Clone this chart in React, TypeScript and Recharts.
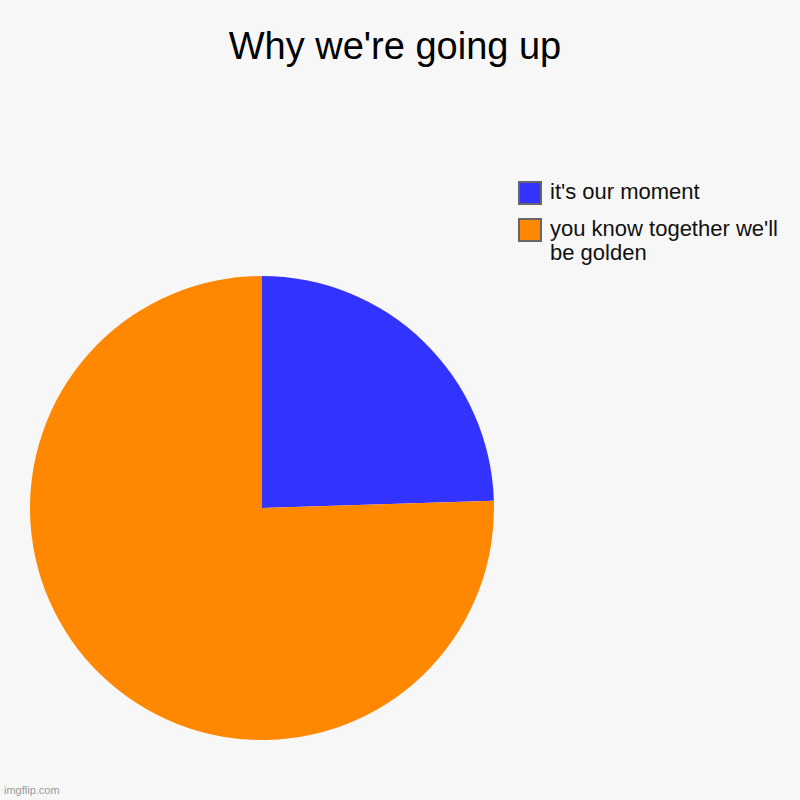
import React from "react";
import { PieChart, Pie, Cell, Legend } from "recharts";

const categories = ["it's our moment", "you know together we'll be golden"];
const values = [24.5, 75.5];
const colors = ["#3333ff", "#ff8800"];
const title = "Why we're going up";
const watermark = "imgflip.com";

const data = categories.map((name, i) => ({ name, value: values[i] }));

const LegendContent = () => (
  <div style={{ fontFamily: "'Liberation Sans', Arial, sans-serif", fontSize: 22, color: "#111" }}>
    {data.map((d, i) => (
      <div key={d.name} style={{ display: "flex", alignItems: "flex-start", marginBottom: i === 0 ? 13 : 0 }}>
        <div
          style={{
            width: 20,
            height: 20,
            background: colors[i],
            border: "2px solid #666",
            flex: "0 0 auto",
          }}
        />
        <div style={{ marginLeft: 8, width: 240, lineHeight: "24px", marginTop: -1 }}>{d.name}</div>
      </div>
    ))}
  </div>
);

export default function App() {
  return (
    <div
      style={{
        position: "absolute",
        left: 0,
        top: 0,
        width: 800,
        height: 800,
        background: "#f7f7f7",
        overflow: "hidden",
      }}
    >
      <div
        style={{
          position: "absolute",
          top: 25,
          left: 0,
          width: 790,
          textAlign: "center",
          fontFamily: "'Liberation Sans', Arial, sans-serif",
          fontSize: 38,
          color: "#000",
        }}
      >
        {title}
      </div>
      <PieChart
        width={800}
        height={800}
        margin={{ top: 0, right: 0, bottom: 0, left: 0 }}
        style={{ position: "absolute", left: 0, top: 0 }}
      >
        <Pie
          data={data}
          dataKey="value"
          nameKey="name"
          cx={262}
          cy={508}
          outerRadius={232}
          startAngle={90}
          endAngle={-270}
          stroke="none"
          isAnimationActive={false}
        >
          {data.map((d, i) => (
            <Cell key={d.name} fill={colors[i]} />
          ))}
        </Pie>
        <Legend
          content={<LegendContent />}
          wrapperStyle={{ position: "absolute", left: 518, top: 181, width: 280 }}
        />
      </PieChart>
      <div
        style={{
          position: "absolute",
          left: 4,
          top: 784,
          fontFamily: "'Liberation Sans', Arial, sans-serif",
          fontSize: 11,
          color: "#999",
        }}
      >
        {watermark}
      </div>
    </div>
  );
}
